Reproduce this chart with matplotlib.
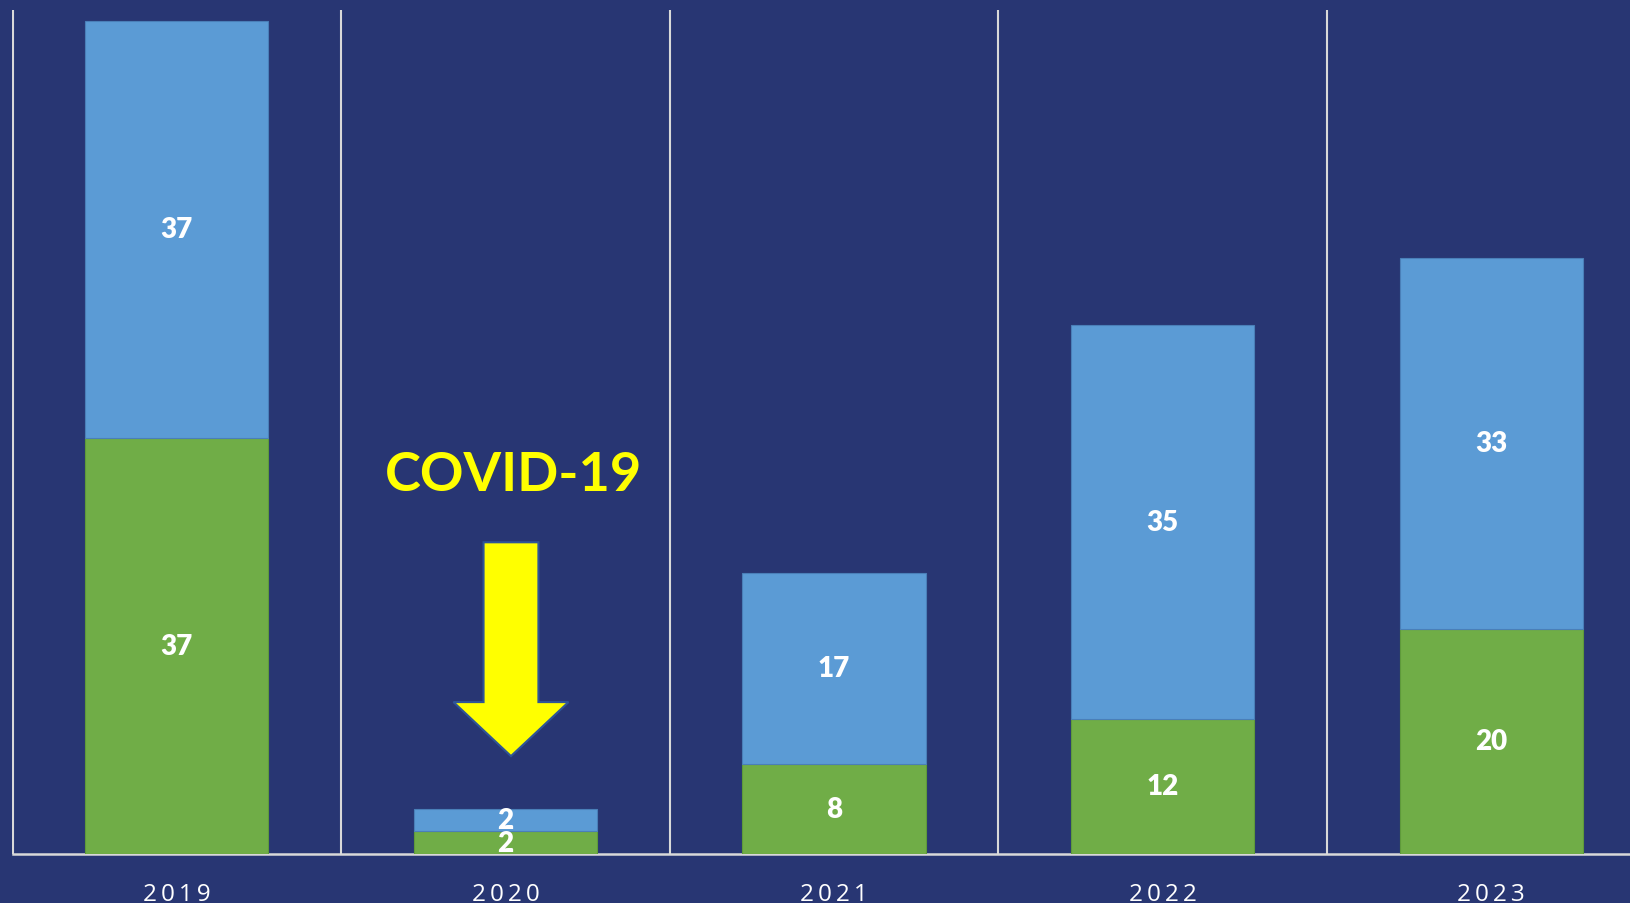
import matplotlib.pyplot as plt
from matplotlib.patches import FancyArrow
import numpy as np

years = ['2019', '2020', '2021', '2022', '2023']
green_vals = [37, 2, 8, 12, 20]
blue_vals = [37, 2, 17, 35, 33]

bg = '#283673'
green = '#70AD47'
blue = '#5B9BD5'
grid = '#d9d9d9'

fig = plt.figure(figsize=(16.31, 9.04), dpi=100)
fig.patch.set_facecolor(bg)
ax = fig.add_axes([12.5 / 1631, 49 / 904, 5 * 328.6 / 1631, 844 / 904])
ax.set_facecolor(bg)

x = np.arange(len(years))
ax.bar(x, green_vals, width=0.557, color=green, edgecolor='#5e9a3a', linewidth=0.8, zorder=3)
ax.bar(x, blue_vals, width=0.557, bottom=green_vals, color=blue, edgecolor='#4a7fb8', linewidth=0.8, zorder=3)

# value labels centred in each segment
for i in range(len(years)):
    g = green_vals[i]
    b = blue_vals[i]
    ax.text(x[i], g / 2, str(g), ha='center', va='center', color='white',
            fontsize=20, fontweight='heavy', family='Lato', zorder=5)
    ax.text(x[i], g + b / 2, str(b), ha='center', va='center', color='white',
            fontsize=20, fontweight='heavy', family='Lato', zorder=5)

ax.set_xlim(-0.5, 4.5)
ax.set_ylim(0, 75)

# category separators
for b in np.arange(-0.5, 5, 1):
    ax.axvline(b, color=grid, linewidth=1.5, zorder=1)

for s in ['top', 'right', 'left']:
    ax.spines[s].set_visible(False)
ax.spines['bottom'].set_color(grid)
ax.spines['bottom'].set_linewidth(1.8)
ax.set_yticks([])
ax.set_xticks(x)
ax.set_xticklabels(['\u2009'.join(y) for y in years], color='white', fontsize=17.5, family='Open Sans')
ax.tick_params(axis='x', length=0, pad=20)

# COVID annotation
ax.text(1.026, 33.7, 'COVID-19', ha='center', va='center', color='#FFFF00',
        fontsize=39, fontweight='bold', family='Lato', zorder=6)
arrow_top = 27.7
arrow_tip = 8.7
arrow = FancyArrow(1.017, arrow_top, 0, arrow_tip - arrow_top,
                   width=0.167, head_width=0.35, head_length=4.8,
                   length_includes_head=True, facecolor='#FFFF00',
                   edgecolor='#2f5597', linewidth=1.5, zorder=6)
ax.add_patch(arrow)

fig.savefig('out.png', dpi=100, facecolor=bg)
